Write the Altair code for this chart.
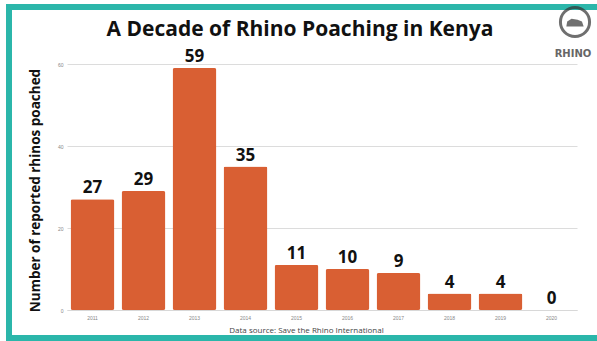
import altair as alt
import pandas as pd

years = ["2011", "2012", "2013", "2014", "2015", "2016", "2017", "2018", "2019", "2020"]
poached = [27, 29, 59, 35, 11, 10, 9, 4, 4, 0]
y_ticks = [0, 20, 40, 60]
chart_title = "A Decade of Rhino Poaching in Kenya"

df = pd.DataFrame({"year": years, "value": poached})

FONT = "Open Sans"
BAR = "#d95f33"
TEAL = "#2bb6aa"

x_enc = alt.X(
    "year:N",
    sort=years,
    scale=alt.Scale(paddingInner=0.14, paddingOuter=0.07),
    axis=alt.Axis(
        title="Data source: Save the Rhino International",
        titleFont=FONT,
        titleFontSize=8,
        titleFontWeight="normal",
        titleColor="#444",
        titleX=239,
        titleY=20,
        titleBaseline="middle",
        labelAngle=0,
        labelFontSize=5,
        labelColor="#888",
        labelPadding=5,
        ticks=False,
        domainColor="#d8d8d8",
        grid=False,
    ),
)

y_enc = alt.Y(
    "value:Q",
    scale=alt.Scale(domain=[0, 60], nice=False),
    axis=alt.Axis(
        values=y_ticks,
        title="Number of reported rhinos poached",
        titleFont=FONT,
        titleFontSize=13.5,
        titleFontWeight="bold",
        titleColor="#111",
        titleAngle=-90,
        titleX=-32,
        titleY=126,
        titleAlign="center",
        titleBaseline="middle",
        labelFontSize=5,
        labelColor="#888",
        labelPadding=4,
        ticks=False,
        domain=False,
        grid=True,
        gridColor="#dcdcdc",
        gridWidth=1,
    ),
)

base = alt.Chart(df)

bars = base.mark_bar(color=BAR, cornerRadius=2).encode(x=x_enc, y=y_enc)

labels = base.mark_text(
    font=FONT, fontSize=17, fontWeight="bold", color="#111", baseline="bottom", dy=-2
).encode(x=alt.X("year:N", sort=years), y=alt.Y("value:Q"), text=alt.Text("value:Q"))

one = pd.DataFrame({"a": [0]})

border = alt.Chart(one).mark_rect(
    fill=None, stroke=TEAL, strokeWidth=6
).encode(
    x=alt.value(-58), x2=alt.value(560), y=alt.value(-57), y2=alt.value(274)
)

title = alt.Chart(one).mark_text(
    text=chart_title, font=FONT, fontSize=21, fontWeight="bold", color="#111",
    baseline="middle", align="center"
).encode(x=alt.value(233), y=alt.value(-34))

logo_ring = alt.Chart(one).mark_point(
    shape="circle", size=850, filled=False, stroke="#333", strokeWidth=3
).encode(x=alt.value(508), y=alt.value(-42))

logo_body = alt.Chart(one).mark_point(
    shape="M-1,0.3 L-0.9,-0.3 L-0.4,-0.6 L0.3,-0.5 L0.8,-0.3 L1,0.3 Z",
    size=300, filled=True, fill="#333", strokeWidth=0
).encode(x=alt.value(508), y=alt.value(-40))

logo_text = alt.Chart(one).mark_text(
    text="RHINO", font="DejaVu Sans", fontSize=10, fontWeight="bold", color="#666"
).encode(x=alt.value(506), y=alt.value(-10))

chart = (
    alt.layer(border, title, bars, labels, logo_ring, logo_body, logo_text)
    .properties(
        width=510,
        height=246,
        autosize=alt.AutoSizeParams(type="none"),
        padding={"left": 67, "top": 64, "right": 20, "bottom": 31},
        background="white",
    )
    .configure_view(stroke=None)
)

chart.save("out.html", embed_options={"renderer": "svg", "actions": False})
